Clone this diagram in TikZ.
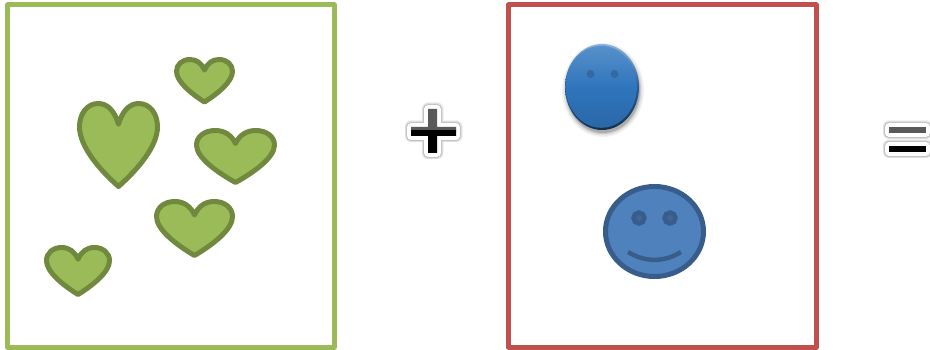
\documentclass[tikz,border=0pt]{standalone}
\usetikzlibrary{shadings}
\definecolor{framegreen}{HTML}{9BBB59}
\definecolor{heartline}{HTML}{71893F}
\definecolor{framered}{HTML}{C0504D}
\definecolor{smilefill}{HTML}{4F81BD}
\definecolor{smileline}{HTML}{385D8A}
\definecolor{glossmid}{HTML}{2F75BD}
\definecolor{glosseye}{HTML}{3568A3}
\definecolor{opgray}{HTML}{595959}
\tikzset{
  framebox/.style={line width=5pt,line join=round},
  heartshape/.style={fill=framegreen,draw=heartline,line width=5pt,line join=round},
  smileshape/.style={fill=smilefill,draw=smileline,line width=5pt},
  opglow/.style={draw=black,line join=round},
  opedge/.style={draw=white,line width=7.5pt,line join=round},
  eyeshape/.style={fill=smileline!75!smilefill,draw=smileline,line width=4.5pt},
}
% #1 left, #2 top, #3 width, #4 height (centre line of the outline)
\newcommand{\heartat}[4]{%
  \draw[heartshape,shift={(#1,#2)},x=#3pt,y=-#4pt]
    (0.5,0.25) .. controls (0.45,0.09) and (0.36,0) .. (0.24,0)
    .. controls (0.1,0) and (0,0.12) .. (0,0.28)
    .. controls (0,0.52) and (0.26,0.8) .. (0.5,1)
    .. controls (0.74,0.8) and (1,0.52) .. (1,0.28)
    .. controls (1,0.12) and (0.9,0) .. (0.76,0)
    .. controls (0.64,0) and (0.55,0.09) .. cycle;}
% soft halo and white edge round an operator shape
\newcommand{\halo}[1]{%
  \foreach \w/\o in {13/0.05,11.5/0.08,10/0.12,8.8/0.18}{
    \path[opglow,line width=\w pt,draw opacity=\o] #1;
  }
  \path[opedge] #1;}
\begin{document}
\begin{tikzpicture}[x=1pt,y=-1pt]
\useasboundingbox (0,0) rectangle (930,350);
% frames
\draw[framebox,framegreen] (7.5,5) rectangle (334,347);
\draw[framebox,framered] (508.5,5) rectangle (816,347);
% hearts
\heartat{79.5}{103.5}{78}{83}
\heartat{176.5}{59.5}{56}{42.5}
\heartat{196.5}{130.5}{78}{52}
\heartat{156.5}{201.5}{76}{54}
\heartat{46.5}{247.5}{63}{47}
% plus
\def\plusshape{(411,127) -- (428,127) -- (428,109) -- (437,109) -- (437,127) -- (456,127) -- (456,136) -- (437,136) -- (437,153) -- (428,153) -- (428,136) -- (411,136) -- cycle}
\halo{\plusshape}
\begin{scope}
  \clip (400,90) rectangle (470,131);
  \fill[opgray] \plusshape;
\end{scope}
\begin{scope}
  \clip (400,131) rectangle (470,170);
  \fill[black] \plusshape;
\end{scope}
% equals
\foreach \ya/\yb/\c in {127/133/opgray,146/152/black}{
  \halo{(889,\ya) rectangle (926,\yb)}
  \fill[\c] (889,\ya) rectangle (926,\yb);
}
% glossy face
\foreach \o/\r in {0.05/5,0.07/3.5,0.10/2,0.14/1}{
  \fill[black,opacity=\o] (603,90) ellipse ({36+\r} and {42+\r});
}
\shade[top color=glossmid!55!white,bottom color=glossmid!40!black,middle color=glossmid!80!black]
  (602,87) ellipse (37 and 43);
\shade[top color=glossmid!80!white,bottom color=glossmid!88!black,middle color=glossmid]
  (601.3,86.8) ellipse (35.6 and 41);
\fill[glosseye] (590.5,74) circle (4);
\fill[glosseye] (614.5,74) circle (4);
% flat face
\draw[smileshape] (654.5,231.5) ellipse (49 and 45);
\filldraw[eyeshape] (639,218) circle (5.5);
\filldraw[eyeshape] (670,218) circle (5.5);
\draw[smileline,line width=4.5pt] (628,252) .. controls (645,262.5) and (664,262.5) .. (681,252);
\end{tikzpicture}
\end{document}
